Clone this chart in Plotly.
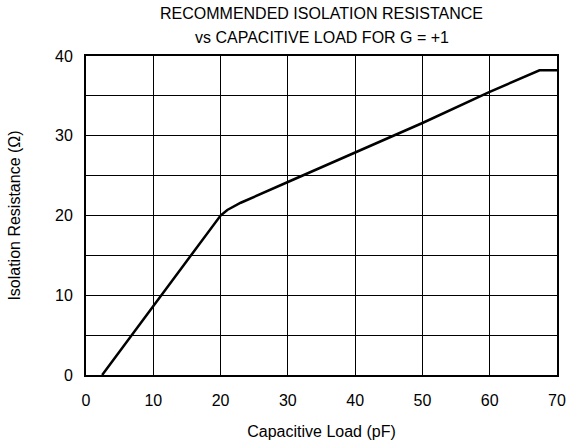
import plotly.graph_objects as go

cap_pf = [2.4, 10, 20, 21, 23, 30, 40, 50, 60, 67.4, 70]
iso_ohm = [0, 8.7, 20, 20.7, 21.6, 24.2, 27.9, 31.6, 35.5, 38.2, 38.2]

x_ticks = [0, 10, 20, 30, 40, 50, 60, 70]
y_ticks = [0, 10, 20, 30, 40]

W, H = 571, 443
ML, MR, MT, MB = 86, 14, 56, 68
ph = H - MT - MB

fig = go.Figure()
fig.add_trace(go.Scatter(x=cap_pf, y=iso_ohm, mode="lines",
                         line=dict(color="black", width=2.5), showlegend=False))

font = dict(family="Liberation Sans, Arial, sans-serif", color="black")
fig.update_layout(
    width=W, height=H,
    margin=dict(l=ML, r=MR, t=MT, b=MB, autoexpand=False),
    paper_bgcolor="white", plot_bgcolor="white",
    font=dict(**font, size=16),
    annotations=[
        dict(text="RECOMMENDED ISOLATION RESISTANCE", x=0.5, xref="paper",
             y=1 + (MT - 14) / ph, yref="paper", yanchor="middle",
             showarrow=False, font=dict(**font, size=16)),
        dict(text="vs CAPACITIVE LOAD FOR G = +1", x=0.5, xref="paper",
             y=1 + (MT - 37) / ph, yref="paper", yanchor="middle",
             showarrow=False, font=dict(**font, size=16)),
    ],
)

fig.update_xaxes(range=[0, 70], tickvals=x_ticks, ticks="", showgrid=True,
                 gridcolor="black", gridwidth=1.2, zeroline=False, automargin=False,
                 showline=True, linecolor="black", linewidth=2, mirror=True,
                 ticklabelstandoff=10,
                 title=dict(text="Capacitive Load (pF)", font=dict(**font, size=16), standoff=18),
                 tickfont=dict(**font, size=16))
fig.update_yaxes(range=[0, 40], tickvals=y_ticks, ticks="", showgrid=False, automargin=False,
                 zeroline=False, showline=True, linecolor="black", linewidth=2, mirror=True,
                 ticklabelstandoff=8,
                 minor=dict(dtick=5, showgrid=True, gridcolor="black", gridwidth=1.2),
                 title=dict(text="Isolation Resistance (Ω)", font=dict(**font, size=16), standoff=30),
                 tickfont=dict(**font, size=16))
fig.write_html("out.html", config={"displayModeBar": False},
               post_script="document.body.style.margin='0';document.body.style.padding='0';")
